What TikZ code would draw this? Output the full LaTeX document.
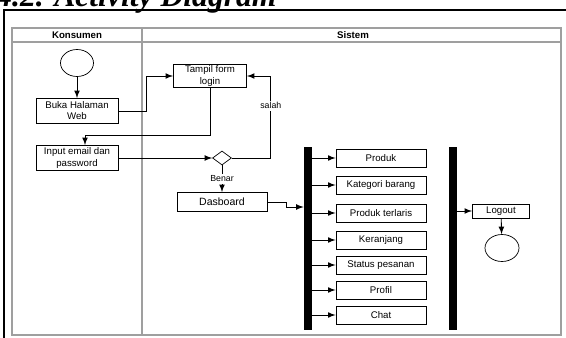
\documentclass[tikz,border=0pt]{standalone}
\usepackage{fontspec}
\setmainfont{Liberation Sans}
\newfontfamily\headfont{Liberation Serif}
\usetikzlibrary{arrows,calc,shapes.geometric}
\tikzset{
	box/.style={draw,line width=0.5pt,align=center,inner sep=1pt,
			font=\fontsize{5.5}{6.3}\selectfont},
	flow/.style={-latex,line width=0.5pt},
	lane/.style={draw=gray!75,line width=0.8pt},
	bar/.style={fill=black,draw=none,minimum width=0.16cm,minimum height=3.66cm,inner sep=0pt},
	lbl/.style={fill=white,inner sep=1pt,font=\fontsize{5}{6}\selectfont},
}

\begin{document}
\begin{tikzpicture}[x=0.02cm,y=-0.02cm]
			\useasboundingbox (0,0) rectangle (566,338);
			\clip (0,0) rectangle (566,338);
			% judul
			\node[anchor=base west,inner sep=0pt,font=\headfont\bfseries\itshape\fontsize{18}{20}\selectfont] (judul) at (-4,7) {4.2. Activity Diagram};
			\draw[line width=0.6pt] (4,345)--(4,10)--(570,10);
			% swimlane
			\draw[lane] (12,28) rectangle (561,335);
			\draw[lane] (12,42)--(561,42);
			\draw[lane] (142,28)--(142,335);
			\node[font=\bfseries\fontsize{5.5}{6}\selectfont] (konsumen) at (77,35) {Konsumen};
			\node[font=\bfseries\fontsize{5.5}{6}\selectfont] (sistem) at (353,35) {Sistem};

			\node[draw,ellipse,minimum width=0.66cm,minimum height=0.54cm] (mulai) at (77,63) {};
			\node[box,minimum width=1.64cm,minimum height=0.5cm] (buka) at (77,111) {Buka Halaman\\Web};
			\node[box,minimum width=1.46cm,minimum height=0.44cm] (tampil) at (210,76) {Tampil form\\login};
			\node[box,minimum width=1.64cm,minimum height=0.5cm] (input) at (77,158) {Input email dan\\password};
			\node[draw,diamond,minimum width=0.38cm,minimum height=0.28cm,inner sep=0pt] (cek) at (222,158) {};
			\node[box,minimum width=1.8cm,minimum height=0.38cm,font=\fontsize{6}{7}\selectfont] (dasb) at (222,202) {Dasboard};

			\draw[flow] (mulai)--(buka);
			\draw[flow] (buka.east)--++(28,0)|-(tampil.west);
			\draw[flow] (tampil.south)--++(0,47)-|($(input.north)+(8,0)$);
			\draw[flow] (input)--(cek);
			\draw[flow] (cek.east)--++(39,0)|-(tampil.east) node[lbl,pos=0.32]{salah};
			\draw[flow] (cek)--(dasb) node[lbl,midway]{Benar};

			% fork
			\node[bar] (fork1) at (308,238.5) {};
			\node[bar] (fork2) at (453,238.5) {};
			\draw[flow] (dasb.east)--++(19,0)|-($(fork1.west)+(0,-31.5)$);

			\node[box,minimum width=1.8cm,minimum height=0.36cm] (produk) at (381,158) {Produk};
			\node[box,minimum width=1.8cm,minimum height=0.36cm] (kategori) at (381,185) {Kategori barang};
			\node[box,minimum width=1.8cm,minimum height=0.36cm] (terlaris) at (381,213) {Produk terlaris};
			\node[box,minimum width=1.8cm,minimum height=0.36cm] (keranjang) at (381,240) {Keranjang};
			\node[box,minimum width=1.8cm,minimum height=0.36cm] (status) at (381,265) {Status pesanan};
			\node[box,minimum width=1.8cm,minimum height=0.36cm] (profil) at (381,290) {Profil};
			\node[box,minimum width=1.8cm,minimum height=0.36cm] (chat) at (381,315) {Chat};
			\foreach \n in {produk,kategori,terlaris,keranjang,status,profil,chat}
				\draw[flow] (fork1.east |- \n)--(\n);

			\node[box,minimum width=1.14cm,minimum height=0.28cm] (logout) at (501,211) {Logout};
			\node[draw,ellipse,minimum width=0.68cm,minimum height=0.54cm] (selesai) at (502,248) {};
			\draw[flow] (fork2.east |- logout)--(logout);
			\draw[flow] (logout)--(selesai);
		\end{tikzpicture}
\end{document}
